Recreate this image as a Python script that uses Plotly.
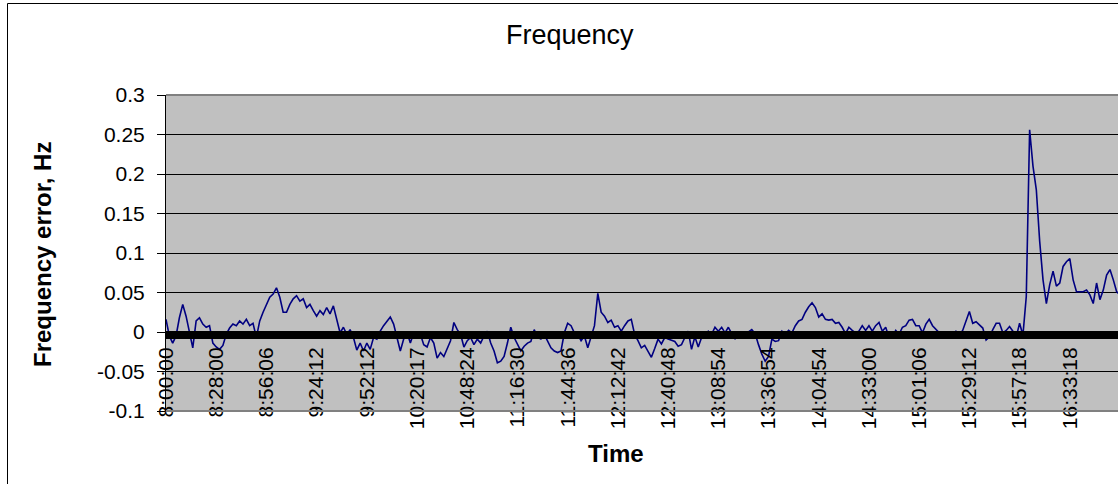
import plotly.graph_objects as go

# ---------------- data ----------------
tick_labels = ["8:00:00", "8:28:00", "8:56:06", "9:24:12", "9:52:12", "10:20:17",
               "10:48:24", "11:16:30", "11:44:36", "12:12:42", "12:40:48", "13:08:54",
               "13:36:54", "14:04:54", "14:33:00", "15:01:06", "15:29:12", "15:57:18",
               "16:33:18"]
samples_per_label = 15

freq_error = [
    0.016, -0.005, -0.014, -0.005, 0.018, 0.035, 0.020, -0.001, -0.020, 0.014,
    0.018, 0.010, 0.006, 0.008, -0.014, -0.019, -0.022, -0.017, -0.003, 0.005,
    0.010, 0.008, 0.014, 0.010, 0.016, 0.008, 0.011,
    -0.007, 0.014, 0.025, 0.035, 0.044, 0.048, 0.056, 0.044, 0.025, 0.025,
    0.035, 0.042, 0.046, 0.039, 0.042, 0.031, 0.035, 0.027, 0.020, 0.027,
    0.022, 0.031, 0.023, 0.033, 0.016, -0.001, 0.006, -0.003, 0.003, -0.007,
    -0.023, -0.014, -0.024, -0.014, -0.022, -0.007, -0.009, 0.001, 0.008, 0.014,
    0.019, 0.010, -0.009, -0.024, -0.009, -0.001, -0.014, -0.001, -0.007, -0.003,
    -0.016, -0.019, -0.007, -0.014,
    -0.033, -0.026, -0.031, -0.020, -0.011, 0.012, 0.003, -0.003, -0.019, -0.011,
    -0.007, -0.016, -0.009, -0.014, -0.005, 0.001, -0.014, -0.024, -0.039, -0.037,
    -0.031, -0.014, 0.006, -0.007, -0.016, -0.024, -0.018, -0.014, -0.012, 0.003,
    -0.007, -0.009, -0.003, -0.011, -0.020, -0.024, -0.026, -0.024, -0.001, 0.011,
    0.008, -0.001, -0.003, -0.011, -0.005, -0.020, -0.007, 0.008, 0.049, 0.025,
    0.020, 0.012, 0.015, 0.006,
    0.008, 0.001, 0.008, 0.014, 0.016, -0.003, -0.011, -0.020,
    -0.017, -0.025, -0.032, -0.021, -0.009, -0.015, -0.007, -0.009, -0.011, -0.012,
    -0.018, -0.016, -0.007, 0.001, -0.022, -0.006, -0.019, -0.007, -0.005, 0.001,
    -0.003, 0.006, 0.001, 0.006, -0.001, 0.006, -0.002, -0.009, -0.001, -0.005,
    -0.001, 0.000, 0.003, -0.002, -0.016, -0.028, -0.037, -0.031, -0.009, -0.012,
    -0.011, 0.001, -0.003, 0.002, -0.001, 0.008, 0.014, 0.016,
    0.025, 0.032, 0.037, 0.031, 0.019, 0.023, 0.016, 0.015, 0.016, 0.011,
    0.012, 0.006, -0.002, 0.006, 0.002, -0.001, 0.001, 0.008, 0.002, 0.008,
    0.001, 0.008, 0.012, 0.001, 0.006, -0.007, -0.006, 0.002, -0.003, 0.006,
    0.008, 0.015, 0.016, 0.008, 0.008, -0.001, 0.010, 0.016, 0.008, 0.003,
    -0.001, 0.000, -0.006, -0.002, -0.006, 0.001, -0.003, 0.002,
    0.015, 0.026, 0.011, 0.013, 0.009, 0.005, -0.010, -0.006, 0.003, 0.011,
    0.011, -0.001, 0.002, 0.007, 0.001, -0.006, 0.011, -0.004, 0.045, 0.256,
    0.210, 0.180, 0.115, 0.066, 0.036, 0.060, 0.077, 0.058, 0.062, 0.083,
    0.089, 0.093, 0.066, 0.051, 0.051, 0.051, 0.053, 0.047, 0.036, 0.062,
    0.041, 0.053, 0.072, 0.079, 0.066, 0.051, 0.047,
]

y_tick_vals = [0.3, 0.25, 0.2, 0.15, 0.1, 0.05, 0, -0.05, -0.1]
y_tick_text = ["0.3", "0.25", "0.2", "0.15", "0.1", "0.05", "0", "-0.05", "-0.1"]

chart_title = "Frequency"
x_title = "Time"
y_title = "Frequency error, Hz"

# ---------------- layout geometry ----------------
W, H = 1118, 484
L, R, T, B = 166, 0, 95, 73
PW, PH = W - L - R, H - T - B


def px_x(p):
    return (p - L) / PW


def px_y(p):
    return (H - B - p) / PH


FONT = "Liberation Sans, Arial, sans-serif"

x_idx = list(range(len(freq_error)))
tick_vals = [i * samples_per_label for i in range(len(tick_labels))]

fig = go.Figure(
    go.Scatter(
        x=x_idx, y=freq_error, mode="lines",
        line=dict(color="#000080", width=1.6),
        hoverinfo="skip", showlegend=False,
    )
)

fig.update_layout(
    width=W, height=H,
    margin=dict(l=L, r=R, t=T, b=B, autoexpand=False),
    paper_bgcolor="white",
    plot_bgcolor="#C0C0C0",
    font=dict(family=FONT, color="black", size=21),
    xaxis=dict(
        range=[0, 284.4],
        anchor="free", position=px_y(335),
        showline=True, linecolor="black", linewidth=8,
        tickmode="array", tickvals=tick_vals, ticktext=tick_labels,
        tickangle=-90, ticks="", showgrid=False, zeroline=False,
        tickfont=dict(size=21, family=FONT),
        fixedrange=True,
    ),
    yaxis=dict(
        range=[-0.1, 0.3],
        tickmode="array", tickvals=y_tick_vals, ticktext=y_tick_text,
        showgrid=True, gridcolor="black", gridwidth=1,
        zeroline=False,
        showline=True, linecolor="black", linewidth=1,
        ticks="outside", ticklen=8, tickcolor="black", tickwidth=1,
        tickfont=dict(size=21, family=FONT),
        ticklabelstandoff=8,
        fixedrange=True,
    ),
    annotations=[
        dict(text=chart_title, xref="paper", yref="paper", x=px_x(570), y=px_y(35),
             showarrow=False, xanchor="center", yanchor="middle",
             font=dict(size=27, family=FONT)),
        dict(text="<b>" + x_title + "</b>", xref="paper", yref="paper", x=px_x(616), y=px_y(453),
             showarrow=False, xanchor="center", yanchor="middle",
             font=dict(size=24, family=FONT)),
        dict(text="<b>" + y_title + "</b>", xref="paper", yref="paper", x=px_x(42), y=px_y(254),
             showarrow=False, xanchor="center", yanchor="middle", textangle=-90,
             font=dict(size=24, family=FONT)),
    ],
    shapes=[
        # plot-area border (top and bottom)
        dict(type="line", xref="paper", yref="paper", x0=0, x1=1, y0=1, y1=1,
             line=dict(color="#808080", width=2), layer="above"),
        dict(type="line", xref="paper", yref="paper", x0=0, x1=1, y0=0, y1=0,
             line=dict(color="#808080", width=2), layer="above"),
        # chart-area border (left and top)
        dict(type="line", xref="paper", yref="paper", x0=px_x(7.5), x1=px_x(7.5),
             y0=px_y(3.5), y1=px_y(490), line=dict(color="black", width=1), layer="above"),
        dict(type="line", xref="paper", yref="paper", x0=px_x(7.5), x1=px_x(1125),
             y0=px_y(3.5), y1=px_y(3.5), line=dict(color="black", width=1), layer="above"),
    ],
)

fig.write_html("out.html", config={"displayModeBar": False},
               post_script="document.body.style.margin='0';")
